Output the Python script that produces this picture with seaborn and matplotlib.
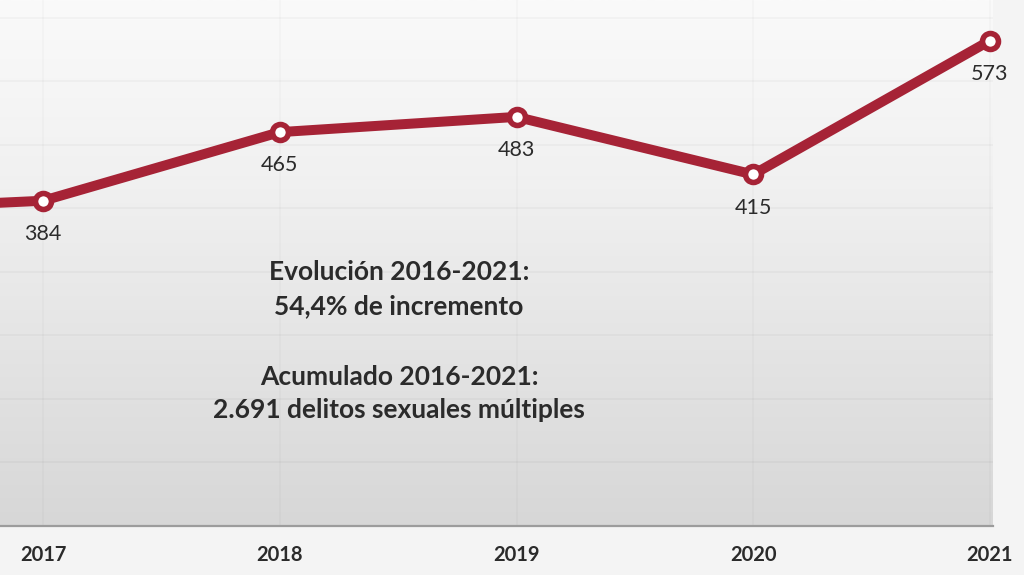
import numpy as np
import pandas as pd
import matplotlib
matplotlib.use("Agg")
import matplotlib.pyplot as plt
from matplotlib.colors import LinearSegmentedColormap
import seaborn as sns

# ---- data ----
years = [2016, 2017, 2018, 2019, 2020, 2021]
values = [371, 384, 465, 483, 415, 573]
labeled_years = [2017, 2018, 2019, 2020, 2021]
tick_labels = ["2017", "2018", "2019", "2020", "2021"]
note_lines_1 = ["Evolución 2016-2021:", "54,4% de incremento"]
note_lines_2 = ["Acumulado 2016-2021:", "2.691 delitos sexuales múltiples"]

df = pd.DataFrame({"year": years, "value": values})

sns.set_theme(style="white")
plt.rcParams["font.family"] = ["Lato", "DejaVu Sans"]

RED = "#a62336"
TXT = "#2b2b2b"

fig = plt.figure(figsize=(10.24, 5.75), dpi=100, facecolor="#f4f4f4")
W, H = 1024, 575
X0, X1, Y0, Y1 = 2016.818, 2021.013, 0, 621
ax = fig.add_axes([0, (H - 526) / H, 993 / W, 526 / H])

# gradient background (white at top, grey at bottom)
grad = np.linspace(0, 1, 256).reshape(-1, 1)
cmap = LinearSegmentedColormap.from_list("bg", ["#fafafa", "#f1f1f1", "#e4e4e4", "#d7d7d7"])
ax.imshow(grad, aspect="auto", cmap=cmap, extent=[X0, X1, Y0, Y1],
          origin="upper", zorder=0)
ax.set_xlim(X0, X1)
ax.set_ylim(Y0, Y1)

# faint gridlines
for gy in np.arange(75, 621, 75):
    ax.axhline(gy, color="black", alpha=0.03, lw=1.2, zorder=1)
for gx in labeled_years:
    ax.axvline(gx, color="black", alpha=0.025, lw=1.2, zorder=1)

sns.lineplot(data=df, x="year", y="value", ax=ax, color=RED, lw=7.2,
             marker="o", markersize=11.5, markerfacecolor="white",
             markeredgecolor=RED, markeredgewidth=4, zorder=5, clip_on=False)

for yr, v in zip(years, values):
    if yr in labeled_years:
        ax.annotate(str(v), (yr, v), textcoords="offset points", xytext=(0, -24),
                    ha="center", va="center", fontsize=15.5, color=TXT, zorder=6)

for sp in ["top", "left", "right"]:
    ax.spines[sp].set_visible(False)
ax.spines["bottom"].set_color("#9c9c9c")
ax.spines["bottom"].set_linewidth(1.6)

ax.set_xticks(labeled_years)
ax.set_xticklabels(tick_labels, fontsize=14.5, color=TXT, fontweight="bold",
                   family=["Liberation Sans Narrow", "Lato"])
ax.tick_params(axis="x", length=0, pad=14)
ax.set_yticks([])
ax.set_xlabel("")
ax.set_ylabel("")
ax.grid(False)

cx = 399 / W
for txt, py in zip(note_lines_1 + note_lines_2, [272, 306, 377, 410]):
    fig.text(cx, 1 - py / H, txt, ha="center", va="center", fontsize=19,
             fontweight="bold", color=TXT)

fig.savefig("out.png", dpi=100, facecolor=fig.get_facecolor())
